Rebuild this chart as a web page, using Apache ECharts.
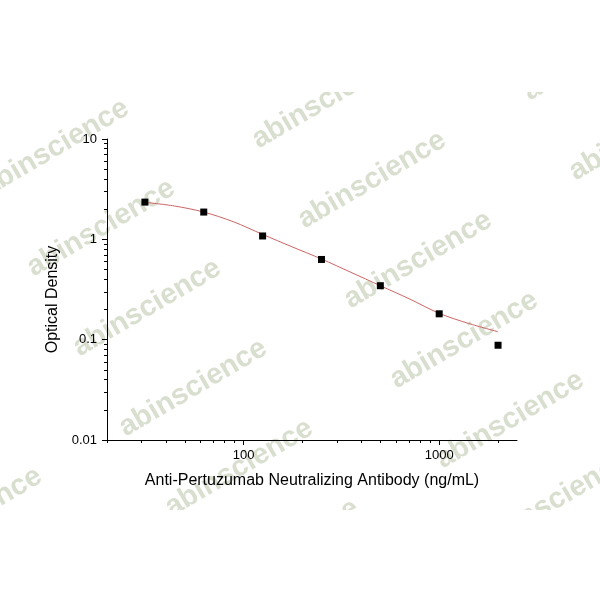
<!DOCTYPE html>
<html>
<head>
<meta charset="utf-8">
<script src="https://cdn.jsdelivr.net/npm/echarts@6/dist/echarts.min.js"></script>
<style>
html,body{margin:0;padding:0;background:#fff;}
#chart{width:600px;height:600px;}
</style>
</head>
<body>
<div id="chart"></div>
<script>
// ---- data ----
var concentrations = [31.25, 62.5, 125, 250, 500, 1000, 2000];
var opticalDensity = [2.35, 1.87, 1.08, 0.63, 0.345, 0.181, 0.088];
var fitX = [31.25, 44.2, 62.5, 88.4, 125, 176.8, 250, 353.6, 500, 707.1, 1000, 1414.2, 2000];
var fitY = [2.34, 2.15, 1.87, 1.50, 1.12, 0.842, 0.637, 0.469, 0.345, 0.254, 0.183, 0.145, 0.12];
var xMinorTicks = [20, 30, 40, 50, 60, 70, 80, 90, 100, 200, 300, 400, 500, 600, 700, 800, 900, 1000, 2000];
var xMajorTicks = [100, 1000];
var yMinorTicks = [0.01,0.02,0.03,0.04,0.05,0.06,0.07,0.08,0.09,0.1,0.2,0.3,0.4,0.5,0.6,0.7,0.8,0.9,1,2,3,4,5,6,7,8,9,10];
var yMajorTicks = [0.01, 0.1, 1, 10];
var xTitle = 'Anti-Pertuzumab Neutralizing Antibody (ng/mL)';
var yTitle = 'Optical Density';
var watermarkText = 'abinscience';

var FONT = 'Liberation Sans, Arial, sans-serif';

// watermark lattice (decoration)
var wm = [];
for (var i = -2; i <= 3; i++) {
  for (var j = -3; j <= 8; j++) {
    var cx = 55 + i * 271 + j * 46;
    var cy = 148 - i * 48 + j * 80;
    if (cx < -160 || cx > 760 || cy < 20 || cy > 590) continue;
    wm.push({
      type: 'text', x: cx, y: cy, rotation: 0.53, z: 0, silent: true,
      style: { text: watermarkText, fill: 'rgb(216,223,207)', font: 'bold 29px ' + FONT,
               textAlign: 'center', textVerticalAlign: 'middle' }
    });
  }
}
wm.push({ type: 'rect', shape: { x: 0, y: 0, width: 600, height: 92 }, style: { fill: '#fff' }, z: 1, silent: true });
wm.push({ type: 'rect', shape: { x: 0, y: 510, width: 600, height: 90 }, style: { fill: '#fff' }, z: 1, silent: true });

function fmtY(v) {
  if (v >= 1) return String(Math.round(v));
  return String(+v.toPrecision(1));
}

var lineStyleAxis = { color: '#000', width: 1 };

var option = {
  backgroundColor: '#fff',
  animation: false,
  graphic: wm,
  grid: { left: 107, right: 83, top: 139, bottom: 160, containLabel: false },
  xAxis: [
    {
      type: 'log', logBase: 10, min: 20, max: 2500, z: 3,
      name: xTitle, nameLocation: 'middle', nameGap: 33,
      nameTextStyle: { color: '#000', fontSize: 16, fontFamily: FONT },
      axisLine: { show: true, lineStyle: lineStyleAxis },
      axisTick: { show: true, length: 3, inside: false, lineStyle: lineStyleAxis, customValues: xMinorTicks },
      axisLabel: { show: true, color: '#000', fontSize: 13, fontFamily: FONT, margin: 9, customValues: xMajorTicks,
                   formatter: function (v) { return String(Math.round(v)); } },
      splitLine: { show: false }, minorTick: { show: false }, minorSplitLine: { show: false }
    },
    {
      type: 'log', logBase: 10, min: 20, max: 2500, position: 'bottom', z: 3,
      axisLine: { show: false },
      axisTick: { show: true, length: 5, lineStyle: lineStyleAxis, customValues: xMajorTicks },
      axisLabel: { show: false },
      splitLine: { show: false }
    }
  ],
  yAxis: [
    {
      type: 'log', logBase: 10, min: 0.01, max: 10, z: 3,
      name: yTitle, nameLocation: 'middle', nameGap: 44,
      nameTextStyle: { color: '#000', fontSize: 16, fontFamily: FONT, padding: [0, 20, 0, 0] },
      axisLine: { show: true, lineStyle: lineStyleAxis },
      axisTick: { show: true, length: 3, lineStyle: lineStyleAxis, customValues: yMinorTicks },
      axisLabel: { show: true, color: '#000', fontSize: 13, fontFamily: FONT, margin: 10, customValues: yMajorTicks,
                   formatter: fmtY },
      splitLine: { show: false }, minorTick: { show: false }, minorSplitLine: { show: false }
    },
    {
      type: 'log', logBase: 10, min: 0.01, max: 10, position: 'left', z: 3,
      axisLine: { show: false },
      axisTick: { show: true, length: 5, lineStyle: lineStyleAxis, customValues: yMajorTicks },
      axisLabel: { show: false },
      splitLine: { show: false }
    }
  ],
  series: [
    {
      type: 'line', name: 'Fit', z: 4,
      data: fitX.map(function (x, k) { return [x, fitY[k]]; }),
      smooth: 0.3, showSymbol: false, symbol: 'none',
      lineStyle: { color: 'rgb(205,100,100)', width: 1 },
      itemStyle: { color: 'rgb(205,100,100)' }
    },
    {
      type: 'scatter', name: 'OD', z: 5,
      data: concentrations.map(function (x, k) { return [x, opticalDensity[k]]; }),
      symbol: 'rect', symbolSize: 7,
      itemStyle: { color: '#000', opacity: 1 }
    }
  ]
};

var chart = echarts.init(document.getElementById('chart'), null, { renderer: 'canvas' });
chart.setOption(option);
</script>
</body>
</html>
